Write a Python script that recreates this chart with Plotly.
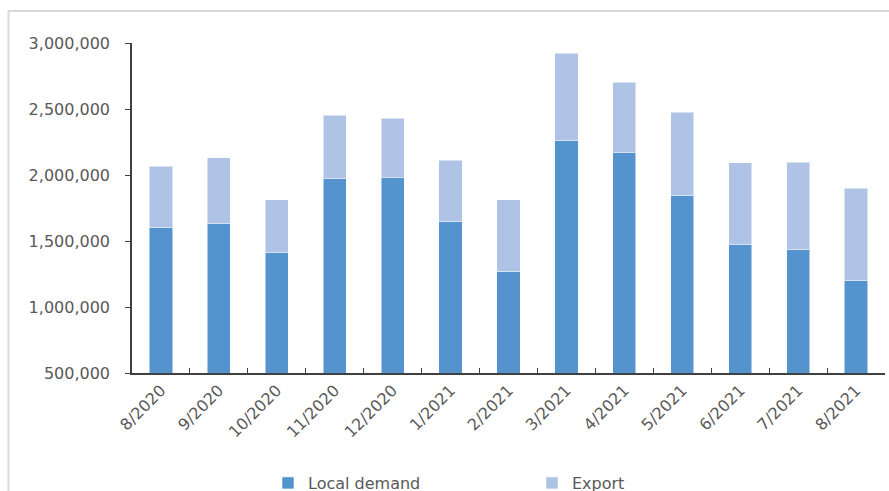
import plotly.graph_objects as go

months = ["8/2020", "9/2020", "10/2020", "11/2020", "12/2020", "1/2021", "2/2021",
          "3/2021", "4/2021", "5/2021", "6/2021", "7/2021", "8/2021"]
local_demand = [1606000, 1629000, 1412000, 1972000, 1980000, 1651000, 1270000,
                2260000, 2167000, 1843000, 1472000, 1439000, 1202000]
export = [462000, 500000, 401000, 480000, 450000, 460000, 541000,
          664000, 535000, 632000, 621000, 659000, 699000]
y_ticks = [500000, 1000000, 1500000, 2000000, 2500000, 3000000]

FONT = "DejaVu Sans"
TXT = "#595959"

fig = go.Figure()
fig.add_trace(go.Bar(x=months, y=local_demand, name="Local demand",
                     marker=dict(color="#5593cf", line=dict(color="rgba(255,255,255,0.5)", width=1))))
fig.add_trace(go.Bar(x=months, y=export, name="Export",
                     marker=dict(color="#aec3e5", line=dict(color="rgba(255,255,255,0.5)", width=1))))

W, H = 889, 491
L, R, T, B = 132, 4, 43, 118
pw = W - L - R
ph = H - T - B

def px(x):
    return (x - L) / pw

def py(y):
    return (H - B - y) / ph

fig.update_layout(
    width=W, height=H,
    margin=dict(l=L, r=R, t=T, b=B, autoexpand=False),
    barmode="stack", bargap=0.6,
    paper_bgcolor="white", plot_bgcolor="white",
    font=dict(family=FONT, size=16, color=TXT),
    showlegend=True,
    legend=dict(orientation="h", x=px(268), y=py(466), xanchor="left", yanchor="top",
                entrywidth=219, entrywidthmode="pixels", traceorder="normal",
                font=dict(family=FONT, size=16, color=TXT), itemwidth=30),
    xaxis=dict(showline=True, linecolor="#404040", linewidth=1.5,
               ticks="inside", tickson="boundaries", ticklen=5, tickcolor="#404040",
               tickangle=-45, tickfont=dict(family=FONT, size=16, color=TXT),
               showgrid=False),
    yaxis=dict(range=[500000, 3000000], tickvals=y_ticks, tickformat=",d",
               showline=True, linecolor="#404040", linewidth=1.5,
               ticks="outside", ticklen=5, tickcolor="#404040",
               showgrid=False, zeroline=False, ticklabelstandoff=12,
               tickfont=dict(family=FONT, size=16, color=TXT)),
    shapes=[dict(type="rect", xref="paper", yref="paper",
                 x0=px(8.5), x1=px(1000), y0=py(11), y1=py(600),
                 line=dict(color="#d9d9d9", width=2), fillcolor="rgba(0,0,0,0)", layer="below")],
)

fig.write_html("out.html")
